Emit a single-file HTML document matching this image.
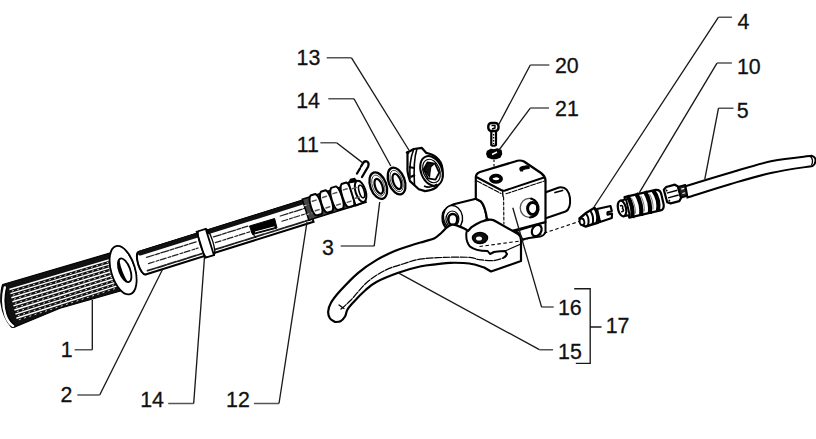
<!DOCTYPE html>
<html><head><meta charset="utf-8">
<style>
html,body{margin:0;padding:0;background:#fff;width:816px;height:439px;overflow:hidden}
svg{display:block}
text{font-family:"Liberation Sans",sans-serif;font-size:22.5px;fill:#111;stroke:#111;stroke-width:0.3}
</style></head><body>
<svg width="816" height="439" viewBox="0 0 816 439">
<!-- GRIP (1) -->
<g>
  <path d="M2.7 284.5 L110 253 L124 290 L117 292 L60 308.2 L16 326.5 Q13 328.5 11 326.5 Q3 318 0.8 302 Q0.5 290 2.7 284.5Z" fill="#111" stroke="#000" stroke-width="1.2"/>
  <path d="M9.4 289.5 L113.1 258.8 M10.4 293.6 L113.9 262.6 M11.4 297.7 L114.7 266.4 M12.4 301.8 L115.5 270.2 M13.4 305.9 L116.3 274.0 M14.4 310.0 L117.1 277.8 M15.4 314.1 L117.9 281.6 M16.4 318.2 L118.7 285.4" stroke="#fff" stroke-width="1.5" fill="none"/>
  <path d="M11.9 291.1 L113.5 260.7 M12.9 295.2 L114.3 264.5 M13.9 299.3 L115.1 268.3 M14.9 303.4 L115.9 272.1 M15.9 307.5 L116.7 275.9 M16.9 311.6 L117.5 279.7 M17.9 315.7 L118.3 283.5 M18.9 319.8 L119.1 287.3" stroke="#ccc" stroke-width="1" fill="none" stroke-dasharray="2 3.5"/>
  <path d="M4.8 287.5 Q1.2 302 5.5 315.5 Q8.5 323.5 13 326" stroke="#fff" stroke-width="2.4" fill="none" stroke-linecap="round"/>
  <path d="M6.8 287 Q3.8 302 7.8 315 Q10.5 321.5 14.5 324.5" stroke="#000" stroke-width="1.1" fill="none"/>
</g>
<g transform="translate(122 270) rotate(-16.5)">
  <!-- flange -->
  <ellipse cx="1" cy="0.5" rx="12" ry="25" fill="#fff" stroke="#000" stroke-width="1.8"/>
  <path d="M8 -20 Q14 -8 12.5 10" fill="none" stroke="#000" stroke-width="0.9"/>
  <g transform="translate(2.5 1) rotate(-4)">
    <ellipse rx="5.5" ry="12.5" fill="#fff" stroke="#000" stroke-width="1.8"/>
    <path d="M0 -12.5 A5.5 12.5 0 0 0 0 12.5 A2 10 0 0 1 0 -12.5Z" fill="#000"/>
  </g>
</g>
<!-- TUBE ASSEMBLY (2,14,12) -->
<g transform="translate(142 263) rotate(-17.4)" stroke-linecap="round">
  <!-- tube body -->
  <path d="M0 -11.5 H176 V12 H0 A4 11.75 0 0 1 0 -11.5Z" fill="#fff" stroke="#000" stroke-width="2"/>
  <path d="M0 -11.5 A4 11.75 0 0 0 0 12" fill="none" stroke="#000" stroke-width="1.3"/>
  <path d="M1 -11 H176" stroke="#000" stroke-width="3.2"/>
  <path d="M1 -9.8 H176" stroke="#111" stroke-width="4.4"/>
  <path d="M6 -4 H58 M76 -3.5 H112 M146 -3.5 H172" stroke="#222" stroke-width="1.3" stroke-dasharray="8 1.5 4 1.5"/>
  <path d="M6 2.5 H58 M76 2.5 H112 M146 2 H172" stroke="#222" stroke-width="1.2" stroke-dasharray="6 2 3 1.5"/>
  <path d="M3 9 H60 M74 9 H176" stroke="#222" stroke-width="1.8" stroke-dasharray="9 1.5"/>
  <!-- ring 14 -->
  <path d="M61.5 -13.5 H71 V14 H61.5 Z" fill="#fff" stroke="#000" stroke-width="1.8"/>
  <path d="M64 -13.5 A3 13.75 0 0 0 64 14" fill="none" stroke="#000" stroke-width="1.3"/>
  <path d="M71 -13.5 A3 13.75 0 0 1 71 14" fill="none" stroke="#000" stroke-width="1.3"/>
  <!-- spiral 12 -->
  <path d="M172 -13 H232 V9 H172Z" fill="#444" stroke="#000" stroke-width="1.5"/>
  <path d="M172 -6 H222 M172 3 H222" stroke="#bbb" stroke-width="1" stroke-dasharray="2 3"/>
  <g fill="#fff" stroke="#000" stroke-width="2" stroke-linejoin="round">
    <path d="M181.0 -14.0 C177.0 -11.0 177.0 5.0 181.0 7.0 L186.0 7.0 C189.5 5.0 189.5 -11.0 186.0 -14.0Z"/>
    <path d="M192.0 -14.5 C188.0 -11.5 188.0 5.5 192.0 7.5 L197.0 7.5 C200.5 5.5 200.5 -11.5 197.0 -14.5Z"/>
    <path d="M203.0 -15.1 C199.0 -12.1 199.0 6.1 203.0 8.1 L208.0 8.1 C211.5 6.1 211.5 -12.1 208.0 -15.1Z"/>
    <path d="M214.0 -15.7 C210.0 -12.7 210.0 6.7 214.0 8.7 L219.0 8.7 C222.5 6.7 222.5 -12.7 219.0 -15.7Z"/>
    <path d="M221 -15 L229 -14 C236 -10 236 4 229 8.5 L221 9 Z"/>
    <ellipse cx="230" cy="-3" rx="5" ry="11"/>
    <ellipse cx="231" cy="-2.5" rx="2.5" ry="6.5" stroke-width="1.6"/>
  </g>
  <path d="M181 -8H185 M192 -8.5H196 M203 -9H207 M214 -9.5H218 M181 2H185 M192 2.5H196 M203 3H207 M214 3.5H218 M223 -8H227 M223 2H227" stroke="#555" stroke-width="1.4"/>
  <path d="M222 -15 L224 -17.5 L228 -17 L229.5 -14" fill="#000" stroke="#000" stroke-width="1.5"/>
</g>
<!-- slot (screen coords) -->
<path d="M249.5 226 L274.6 218.5 L277 228 L252.5 234.5Z" fill="#000" stroke="#000" stroke-width="1" stroke-linejoin="round"/>
<path d="M255 232 L274.5 226.8" stroke="#fff" stroke-width="1"/>
<path d="M251 231 L256 238" stroke="#000" stroke-width="1.2"/>
<!-- PIN 11 -->
<path d="M357 173.5 L360 168.5 M361 166.5 L362.5 164 Q364 160.8 366.5 161.3 Q369.5 162.5 368.2 166.5 L362 177" fill="none" stroke="#000" stroke-width="2.3" stroke-linecap="round"/>
<!-- WASHER 3 -->
<g transform="translate(378.3 185.6) rotate(-20)">
  <ellipse rx="8" ry="13.8" fill="#fff" stroke="#000" stroke-width="2.3"/>
  <ellipse cx="0" rx="5.8" ry="11" fill="none" stroke="#444" stroke-width="0.9"/>
  <ellipse cx="0.2" cy="0.8" rx="3.6" ry="7.8" fill="#fff" stroke="#000" stroke-width="2.2"/>
</g>
<!-- WASHER 14 -->
<g transform="translate(396.6 181) rotate(-20)">
  <ellipse rx="8" ry="14" fill="#fff" stroke="#000" stroke-width="2.3"/>
  <ellipse cx="0" rx="5.8" ry="11.2" fill="none" stroke="#444" stroke-width="0.9"/>
  <ellipse cx="0.2" cy="0.5" rx="3.8" ry="8" fill="#fff" stroke="#000" stroke-width="2.2"/>
</g>
<!-- NUT 13 -->
<g stroke="#000" stroke-linejoin="round" transform="translate(0 1)">
  <path d="M407.5 151.5 L413.8 148 L421.9 146.9 L426.3 151.9 Q433 153.5 436.3 156.3 Q442 161 442.5 168 Q443 177 441.4 177.6 Q440 183 436.3 186.4 Q431 190 425.1 190.1 L418.8 188.2 L410 180.1 Q407 172 407.5 165.1Z" fill="#fff" stroke-width="2.2"/>
  <path d="M413.5 149 Q409 160 410 178 M417 147.5 Q413 160 414.5 184" fill="none" stroke-width="1.6"/>
  <path d="M409 166 L414 167 M410.5 176 L415 174" fill="none" stroke-width="2.2"/>
  <path d="M406.5 150.5 L408.5 153" stroke-width="2.5"/>
  <g transform="translate(431.5 170) rotate(-22)">
    <ellipse rx="10.5" ry="15.5" fill="#fff" stroke-width="2"/>
    <ellipse rx="8.2" ry="12.2" fill="none" stroke-width="1.2"/>
    <path d="M-0.5 -9.5 L6 -5.5 L6.5 4.5 L0.5 9.5 L-6 5.5 L-6.5 -4.5Z" fill="#fff" stroke-width="1.8"/>
    <path d="M-6 -4 L-0.5 -9 L5 -5.5 L1 -4 L-2 1 L-4 5Z" fill="#111" stroke-width="1"/>
  </g>
  <path d="M424 185 Q430 188 437 183" fill="none" stroke-width="1.5"/>
</g>
<!-- BOLT 20 -->
<g stroke="#000" stroke-linejoin="round">
  <path d="M491.3 131 L491.3 145 Q493.5 146.5 496 145 L496 131Z" fill="#fff" stroke-width="2.2"/>
  <path d="M493.6 134v1.5M493.6 137v1.5M493.6 140v1.5M493.6 143v1" stroke-width="1.3"/>
  <rect x="488.3" y="123" width="10.2" height="8" rx="3.2" fill="#fff" stroke-width="2.4"/>
  <path d="M491.5 125.5 L495 125.5 L495 128 L492 129" fill="none" stroke-width="1.4"/>
</g>
<!-- WASHER 21 -->
<g stroke="#000" stroke-linejoin="round">
  <path d="M487.5 151.5 L491 149.5 L494 150 L497.5 149 L501 150.5 L501.5 154 L500 157 L496 158.5 L492 158.5 L488 157 L486.8 154Z" fill="#000" stroke-width="1.5"/>
  <path d="M492 154.5 L497 152" stroke="#fff" stroke-width="1.4"/>
</g>
<path d="M494 159.5 V175" stroke="#000" stroke-width="1.1" stroke-dasharray="2.5 2"/>
<!-- MASTER CYLINDER BODY 16 -->
<g fill="#fff" stroke="#000" stroke-linejoin="round" stroke-linecap="round">
  <!-- right boss -->
  <path d="M545 192.5 L559 187.5 Q568 186 570 198 Q571 209 565.5 211.5 L545 218.5Z" stroke-width="2"/>
  <path d="M555 192.5 L562.5 190.5" stroke-width="1.8"/>
  <!-- lower right section -->
  <path d="M516 231 L545.5 222 L545.5 232 Q544 236 540 236.5 L529 238 L522.5 239.5 L519.5 234Z" stroke-width="2"/>
  <ellipse cx="536.7" cy="230.5" rx="4.5" ry="6" stroke-width="2.2" transform="rotate(30 536.7 230.5)"/>
  <!-- pivot boss -->
  <path d="M476 198.8 L453.7 204.2 Q446 207 443 213 Q441 222 446 228 L470 232 L487 219 Q485 206 481 201.5Z" stroke-width="2.2"/>
  <ellipse cx="453" cy="217.5" rx="9.5" ry="12" stroke-width="1.4" transform="rotate(-10 453 217.5)"/>
  <ellipse cx="452.4" cy="219" rx="6.5" ry="8" stroke-width="1.2"/>
  <ellipse cx="452.8" cy="219.5" rx="4.5" ry="5.5" stroke-width="2.6"/>
  <!-- main block -->
  <path d="M475.8 198.8 L475.8 177 Q476 173.5 480 172 L515 161.5 Q520 159.5 524 161.5 L541 173 Q545 176 545.5 180 L545.5 222 L511.4 231 L487 219 Q485 206 481 201.5Z" stroke-width="2.2"/>
  <!-- top face lip -->
  <path d="M476.3 177 L501 190 Q503 191 505 190.5 L544 177.5" fill="none" stroke-width="2"/>
  <path d="M477 181 L501 193.5 M506 193.8 L544.5 181" fill="none" stroke-width="1.1" stroke-dasharray="5 1.5"/>
  <path d="M502.5 190.5 L503 196.5" fill="none" stroke-width="1.4"/>
  <path d="M503.6 197 L503.9 224" fill="none" stroke-width="1.1" stroke-dasharray="3 2"/>
  <!-- top hole & slot -->
  <ellipse cx="496" cy="178.8" rx="5.2" ry="3.2" fill="#fff" stroke-width="3.6"/>
  <ellipse cx="496.5" cy="178.8" rx="2" ry="1.2" fill="#fff" stroke="none"/>
  <path d="M520.5 170.8 Q518.5 167.5 522.5 166.5 L527 165.8 Q530 166.5 529 168.5 L525 169 Q522.5 169.5 522.5 171Z" fill="#000" stroke-width="1.2"/>
  <!-- bolt hole right face -->
  <ellipse cx="529.2" cy="207.8" rx="9" ry="9.5" stroke-width="1.3" stroke="#555"/>
  <path d="M531 198.5 Q539 201 538.5 210 Q537 217 530 217.5" fill="none" stroke-width="2"/>
  <ellipse cx="532.6" cy="208.5" rx="5" ry="6" fill="#fff" stroke-width="3"/>
  <ellipse cx="534" cy="207.5" rx="2" ry="3" fill="#fff" stroke="none"/>
</g>
<!-- LEVER 15 -->
<g fill="#fff" stroke="#000" stroke-linejoin="round" stroke-linecap="round">
  <path d="M335.0 322.0 C334.2 321.4 331.1 320.2 330.0 318.5 C328.9 316.8 328.0 314.1 328.2 311.5 C328.4 308.9 329.0 306.2 331.0 302.8 C333.0 299.4 335.5 296.1 340.0 291.1 C344.5 286.1 352.1 278.0 358.2 272.8 C364.3 267.6 370.3 263.7 376.4 260.1 C382.5 256.5 389.1 253.4 394.7 251.0 C400.3 248.6 405.2 247.3 410.0 245.7 C414.8 244.1 419.6 242.8 423.7 241.6 C427.8 240.3 431.7 239.7 434.6 238.2 C437.6 236.7 439.3 234.6 441.4 232.8 C443.4 231.0 445.1 228.7 446.9 227.3 C448.7 225.9 450.6 224.8 452.4 224.6 C454.2 224.4 455.8 225.2 457.8 225.9 C459.9 226.6 463.0 227.8 464.7 228.7 C466.4 229.5 467.4 230.6 468.0 231.0 L471.6 227.1 C476 224 484 220 490 219.6 C492 219.5 494 220 496 221.5 L518.1 234.1 Q521 236 521 240 L521 261 L491 271.5 L484.2 267.5 C481.7 266.8 475.1 264.3 469.4 263.5 C463.7 262.7 455.4 262.7 450.0 262.8 C444.6 262.9 442.3 263.6 437.3 264.2 C432.3 264.8 426.5 265.1 420.0 266.5 C413.5 267.9 405.6 270.2 398.3 272.8 C391.0 275.4 381.9 279.1 376.4 282.0 C370.9 284.9 368.8 287.3 365.1 290.5 C361.4 293.7 357.1 298.2 354.2 301.4 C351.3 304.6 349.0 307.0 347.5 309.5 C346.0 312.0 346.2 314.5 345.0 316.5 C343.8 318.5 342.2 320.4 340.5 321.3 C338.8 322.2 335.9 321.9 335.0 322.0Z" stroke-width="2.2"/>
  <path d="M341.0 309.0 C342.7 307.5 346.6 304.5 351.0 300.0 C355.4 295.5 361.5 287.0 367.3 282.0 C373.1 277.0 379.5 273.2 385.6 270.1 C391.7 267.1 398.1 265.5 403.8 263.7 C409.5 261.9 413.3 260.2 420.0 259.2 C426.7 258.1 435.9 257.7 444.2 257.4 C452.5 257.1 464.3 257.0 470.0 257.4 C475.7 257.8 474.6 259.0 478.5 259.5 C482.4 260.0 489.1 260.9 493.3 260.6 C497.5 260.3 501.3 258.8 503.6 257.8 C505.9 256.8 506.8 255.5 507.0 254.4 C507.2 253.3 505.1 251.6 504.7 251.0" fill="none" stroke-width="1.2" stroke-dasharray="7 1.5"/>
  <path d="M339 305 L344 308.5" fill="none" stroke-width="1.3"/>
  <path d="M466.5 232 C466 236 466 242 470 246.5 C474 250 482 251 487.6 251 L490 254 L494 252 C498 251.5 502 251 505 251 L507 254 C506 256 504 257.5 503.6 257.8" fill="none" stroke-width="2"/>
  <path d="M505 251 L521 244" fill="none" stroke-width="1.2"/>
  <ellipse cx="480" cy="238" rx="7.5" ry="5.5" fill="#111" stroke-width="1.5"/>
  <ellipse cx="479" cy="238.5" rx="3" ry="2" fill="#fff" stroke="none"/>
</g>
<!-- dashed centerline to fitting -->
<path d="M479.5 246.5 L520.5 241 L579 221.5" stroke="#000" stroke-width="1.1" stroke-dasharray="3.5 2.5" fill="none"/>
<!-- FITTING 4 -->
<g fill="#fff" stroke="#000" stroke-linejoin="round">
  <path d="M597 209 L610.5 206 L611.8 211 L607.5 212.3 L607.5 214.6 L612 213.5 L611.8 218 L600 222Z" stroke-width="2.2"/>
  <path d="M579.5 218.5 L586 213 L594.5 207.8 Q599 214 598.5 222.5 L585.5 226.5 Q580 225.5 579.5 218.5Z" stroke-width="2.4"/>
  <ellipse cx="582" cy="221.8" rx="2.3" ry="3.3" transform="rotate(-15 582 221.8)" stroke-width="1.8"/>
  <path d="M586 213.5 Q590 219 588 225.5 M590.5 211 Q594.5 217 592.5 224.5 M594.5 208.5 Q598.5 215 596.5 223" fill="none" stroke-width="2"/>
</g>
<!-- BANJO 10 -->
<g transform="translate(622 208.5) rotate(-13)" fill="#fff" stroke="#000" stroke-linejoin="round">
  <path d="M5 -10.5 H37 Q41.5 -10 41.5 -5 V5.5 Q41 10.5 37 10.5 H5Z" stroke-width="2.2"/>
  <path d="M8 -11.5 Q12 0 8 11.5 M17 -11.5 Q21 0 17 11.5 M26 -11.5 Q30 0 26 11.5 M34.5 -10.5 Q39 0 34.5 10.5" fill="none" stroke-width="4.2"/>
  <path d="M11.5 -8 Q14 0 12 8 M21 -8 Q23.5 0 21 8 M30 -8 Q32.5 0 30 8" fill="none" stroke="#777" stroke-width="1"/>
  <path d="M0 -8 H6 V8 H0Z" stroke-width="2"/>
  <ellipse cx="0" cy="0" rx="4" ry="8" stroke-width="2.2"/>
  <path d="M-1.5 -3 Q1.5 -3.5 1 -1 Q0 0 1 1 Q1.5 3.5 -1.5 3" fill="none" stroke-width="1.6"/>
</g>
<!-- HOSE NUT -->
<g transform="translate(665.5 196) rotate(-15)" fill="#fff" stroke="#000" stroke-linejoin="round">
  <path d="M0 -6.5 L3 -8.5 H12 L14.5 -6 V6 L12 8.5 H3 L0 6.5Z" stroke-width="2.2"/>
  <path d="M2 -2.5 H13 M2 2.5 H13" stroke-width="1.4"/>
  <circle cx="2.5" cy="-5" r="1" fill="#000" stroke="none"/>
  <circle cx="2.5" cy="5.5" r="1" fill="#000" stroke="none"/>
  <path d="M14.5 -5.5 H22 V5.5 H14.5Z" fill="#222" stroke-width="1.8"/>
  <path d="M17 -2.5 h3 M17 2 h3" stroke="#fff" stroke-width="1.2"/>
</g>
<!-- HOSE 5 -->
<path d="M685.5 186.2 C692.9 183.9 715.6 176.9 730.0 172.7 C744.4 168.5 758.5 163.9 772.1 161.1 C785.7 158.3 804.9 156.7 811.5 155.8 Q816 157 815.5 161 Q815 165 812.5 166 C805.8 167.1 785.9 169.7 772.1 172.7 C758.4 175.7 744.1 180.1 730.0 184.2 C715.9 188.3 694.6 195.3 687.5 197.5Z" fill="#fff" stroke="#000" stroke-width="2"/>
<path d="M810.5 156.5 Q814 160 811.5 165" fill="none" stroke="#000" stroke-width="1.3"/>
<g id="labels">
<text transform="translate(296.5 64.8) scale(0.95 1)">13</text>
<text transform="translate(296.2 108.3) scale(0.95 1)">14</text>
<text transform="translate(296.8 152.4) scale(0.95 1)">11</text>
<text transform="translate(322.1 255.4) scale(0.95 1)">3</text>
<text transform="translate(60.8 357.4) scale(0.95 1)">1</text>
<text transform="translate(60.5 401.6) scale(0.95 1)">2</text>
<text transform="translate(140.2 406.7) scale(0.95 1)">14</text>
<text transform="translate(226.0 406.7) scale(0.95 1)">12</text>
<text transform="translate(554.9 73.2) scale(0.95 1)">20</text>
<text transform="translate(555.0 116.3) scale(0.95 1)">21</text>
<text transform="translate(737.4 29.2) scale(0.95 1)">4</text>
<text transform="translate(736.9 73.7) scale(0.95 1)">10</text>
<text transform="translate(736.8 117.9) scale(0.95 1)">5</text>
<text transform="translate(557.9 315.1) scale(0.95 1)">16</text>
<text transform="translate(558.0 358.8) scale(0.95 1)">15</text>
<text transform="translate(605.7 333.3) scale(0.95 1)">17</text>
</g>
<g id="leaders" fill="none" stroke-linecap="butt">
<path d="M326.7 57.8H351.5 M328.3 98.8H354.0 M320.4 142.8H336.6 M340.7 246.1H374.2 M74.6 349.7H92.3 M77.3 395.0H99.7 M168.2 403.5H193.7 M253.9 403.5H279.0 M530.3 65.0H549.3 M530.3 108.1H549.0 M718.5 17.2H731.9 M717.0 63.1H731.9 M718.5 108.2H733.5 M553.7 307.1H541.6 M553.0 349.7H539.4" stroke="#555" stroke-width="1.5"/>
<path d="M351.5 57.8L409.5 151.0 M354.0 98.8L390.8 166.0 M336.6 142.8L362.4 162.6 M374.2 246.1L379.7 202.0 M92.3 349.7V300.0 M99.7 395.0L162.5 269.5 M193.7 403.5L204.5 257.0 M279.0 403.5L307.0 222.0 M530.3 65.0L498.5 125.0 M530.3 108.1L499.0 150.0 M718.5 17.2L594.0 207.0 M717.0 63.1L639.2 192.9 M718.5 108.2L704.8 179.2 M541.6 307.1L512.8 207.8 M539.4 349.7L398.3 272.8 M574.2 288.7H590.2V363.4H575.8M590.2 327H601.5" stroke="#1a1a1a" stroke-width="1.35"/>
</g>

</svg>
</body></html>
